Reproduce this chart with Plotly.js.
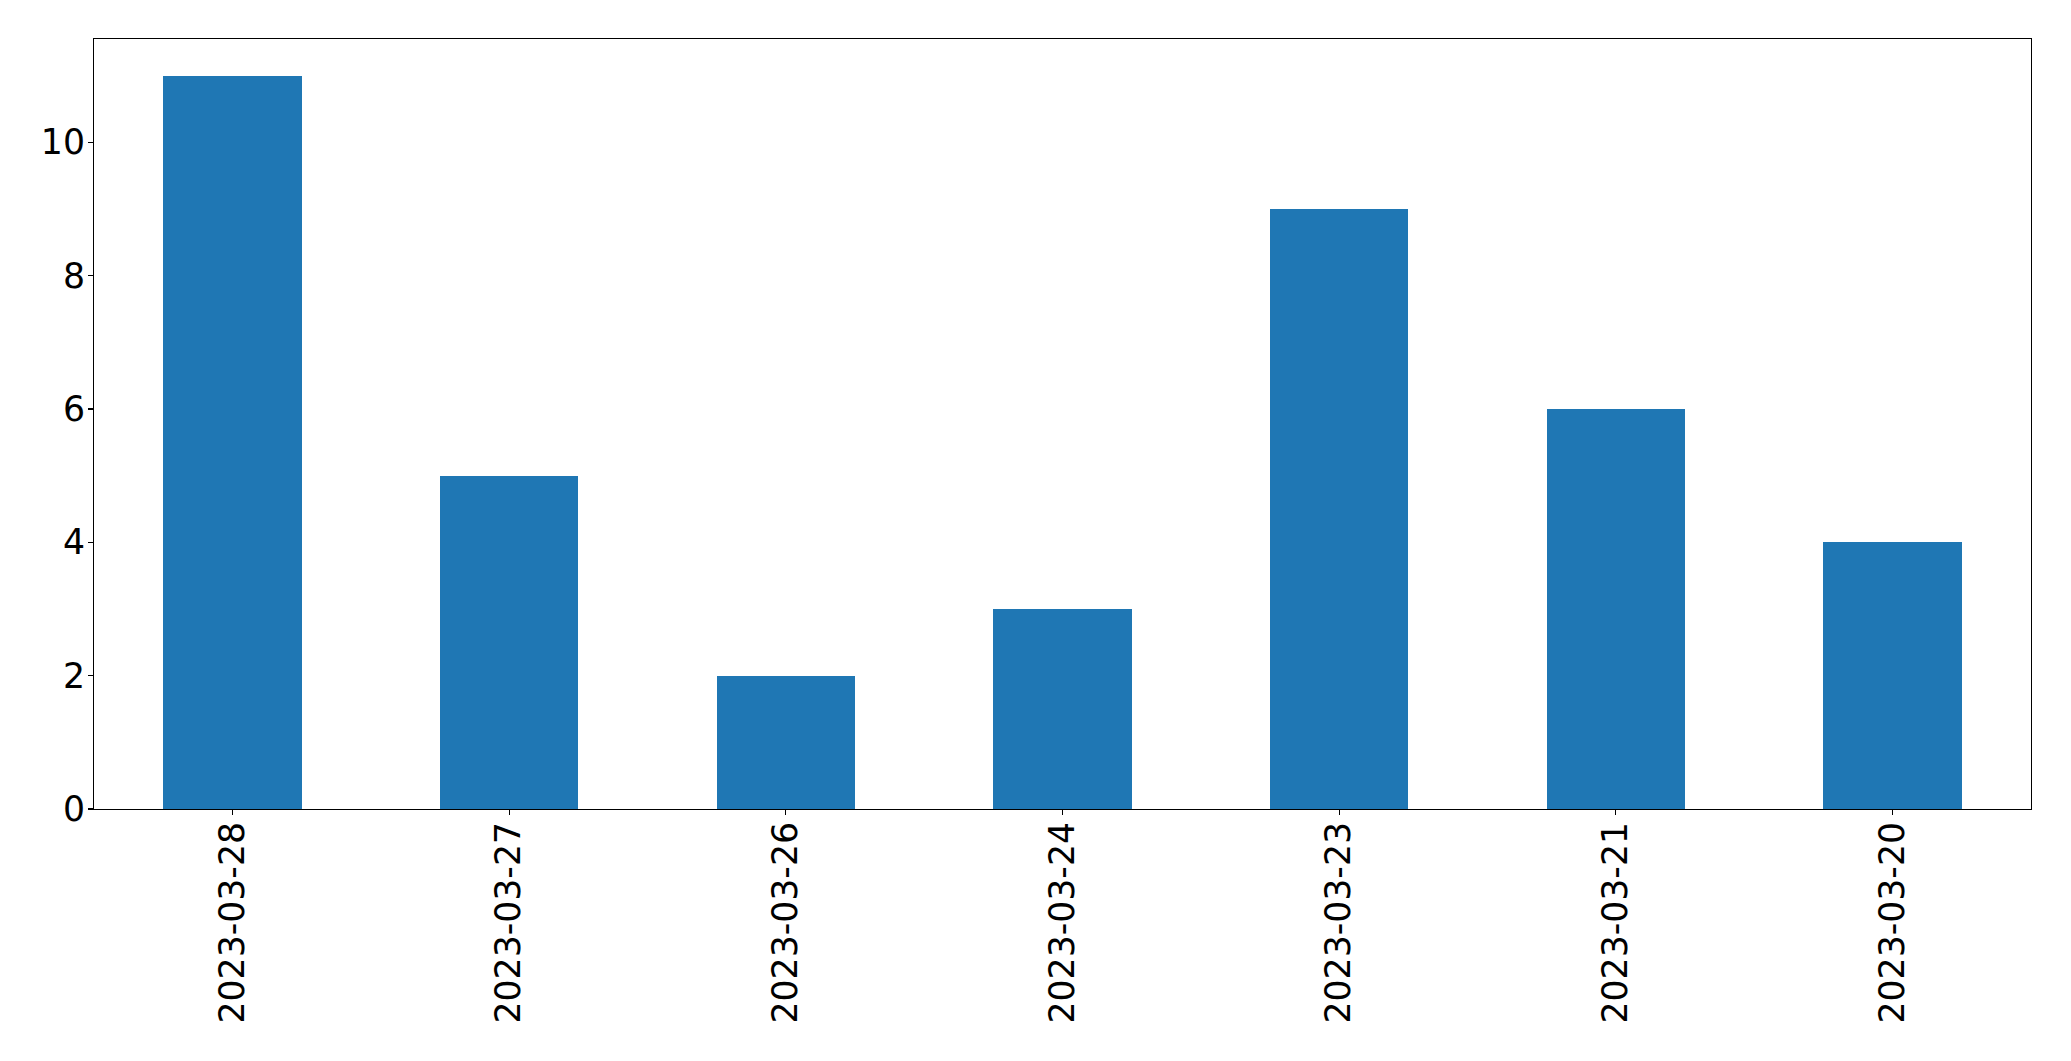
<!DOCTYPE html>
<html>
<head>
<meta charset="utf-8">
<script src="https://cdn.plot.ly/plotly-3.0.1.min.js"></script>
<style>html,body{margin:0;padding:0;background:#fff;}#chart{width:2071px;height:1061px;}</style>
</head>
<body>
<div id="chart"></div>
<script>
const categories = ["2023-03-28","2023-03-27","2023-03-26","2023-03-24","2023-03-23","2023-03-21","2023-03-20"];
const values = [11, 5, 2, 3, 9, 6, 4];
const yTicks = [0, 2, 4, 6, 8, 10];

const fontFamily = "DejaVu Sans, sans-serif";
const trace = {
  type: 'bar',
  x: categories,
  y: values,
  width: 0.5,
  marker: {color: '#1f77b4', line: {width: 0}},
  hoverinfo: 'x+y'
};
const layout = {
  width: 2071, height: 1061,
  margin: {l: 94, r: 40, t: 39, b: 252, pad: 0},
  paper_bgcolor: '#fff', plot_bgcolor: '#fff',
  showlegend: false,
  bargap: 0,
  font: {family: fontFamily, size: 34.7, color: '#000'},
  xaxis: {
    type: 'category',
    range: [-0.5, categories.length - 0.5],
    tickangle: -90,
    ticks: 'outside', ticklen: 5, tickwidth: 1.1, tickcolor: '#000',
    ticklabelstandoff: -7,
    showline: true, linecolor: '#000', linewidth: 1.1, mirror: true,
    showgrid: false, zeroline: false,
    tickfont: {family: fontFamily, size: 34.7, color: '#000'},
    automargin: false
  },
  yaxis: {
    range: [0, 11.55],
    tickvals: yTicks,
    ticktext: yTicks.map(String),
    ticks: 'outside', ticklen: 5, tickwidth: 1.1, tickcolor: '#000',
    ticklabelstandoff: -4,
    showline: true, linecolor: '#000', linewidth: 1.1, mirror: true,
    showgrid: false, zeroline: false,
    tickfont: {family: fontFamily, size: 34.7, color: '#000'},
    automargin: false
  }
};
Plotly.newPlot('chart', [trace], layout, {displayModeBar: false, staticPlot: true});
</script>
</body>
</html>
